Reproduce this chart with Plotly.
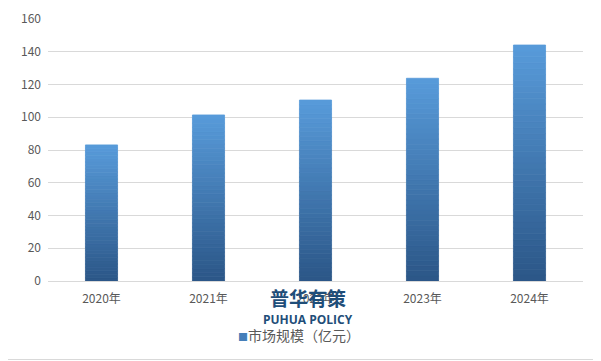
import plotly.graph_objects as go

categories = ["2020年", "2021年", "2022年", "2023年", "2024年"]
values = [83.1, 101.4, 110.5, 123.8, 144.1]
series_name = "市场规模（亿元）"

TOP = (88, 155, 218)
BOT = (43, 86, 135)
N = 40

def mix(t):
    r = [round(BOT[k] + (TOP[k] - BOT[k]) * t) for k in range(3)]
    return f"rgb({r[0]},{r[1]},{r[2]})"

fig = go.Figure()
for i in range(N):
    t = (i + 0.5) / N
    c = mix(t)
    fig.add_trace(go.Bar(
        x=categories,
        y=[v / N for v in values],
        base=[v * i / N for v in values],
        marker=dict(color=c, line=dict(width=0.8, color=c)),
        width=0.30,
        showlegend=False,
        hoverinfo="skip",
    ))

# page has an 8px body margin; work in page pixels and convert
OFF = 8
W, H = 593, 353
ml, mr, mt, mb = 48 - OFF, W - (583 - OFF), 19 - OFF, H - (281 - OFF)
pw, ph = W - ml - mr, H - mt - mb

def px(xp):
    return (xp - OFF - ml) / pw

def py(yp):
    return (mt + ph - (yp - OFF)) / ph

fig.update_layout(
    width=W, height=H,
    margin=dict(l=ml, r=mr, t=mt, b=mb, autoexpand=False),
    paper_bgcolor="white", plot_bgcolor="white",
    barmode="overlay",
    showlegend=False,
    font=dict(family="Noto Sans CJK SC, Liberation Sans, sans-serif", color="#595959", size=12),
    xaxis=dict(showgrid=False, showline=False, ticks="", automargin=False,
               tickfont=dict(size=12, color="#595959"), ticklabelstandoff=9),
    yaxis=dict(range=[0, 160], dtick=20, showgrid=True, gridcolor="#d9d9d9", gridwidth=1,
               zeroline=True, zerolinecolor="#d9d9d9", zerolinewidth=1, automargin=False,
               showline=False, ticks="", tickfont=dict(size=12, color="#595959"), ticklabelstandoff=6),
    shapes=[
        dict(type="line", xref="paper", yref="paper", x0=px(599.5), x1=px(599.5), y0=py(0), y1=py(359.5),
             line=dict(color="#d9d9d9", width=1)),
        dict(type="line", xref="paper", yref="paper", x0=px(0), x1=px(599.5), y0=py(359.5), y1=py(359.5),
             line=dict(color="#d9d9d9", width=1)),
    ],
    annotations=[
        dict(text="<b>普华有策</b>", xref="paper", yref="paper", x=px(308), y=py(297),
             showarrow=False, font=dict(size=19, color="#1f4e79", family="Noto Sans CJK SC"),
             xanchor="center", yanchor="middle"),
        dict(text="<b>PUHUA POLICY</b>", xref="paper", yref="paper", x=px(308), y=py(319),
             showarrow=False, font=dict(size=12, color="#1f4e79", family="Open Sans"),
             xanchor="center", yanchor="middle"),
        dict(text=f"<span style='color:{mix(0.6)};font-size:10px'>■</span>" + series_name,
             xref="paper", yref="paper", x=px(236), y=py(335),
             showarrow=False, font=dict(size=14, color="#595959"),
             xanchor="left", yanchor="middle"),
    ],
)

fig.write_html("out.html")
